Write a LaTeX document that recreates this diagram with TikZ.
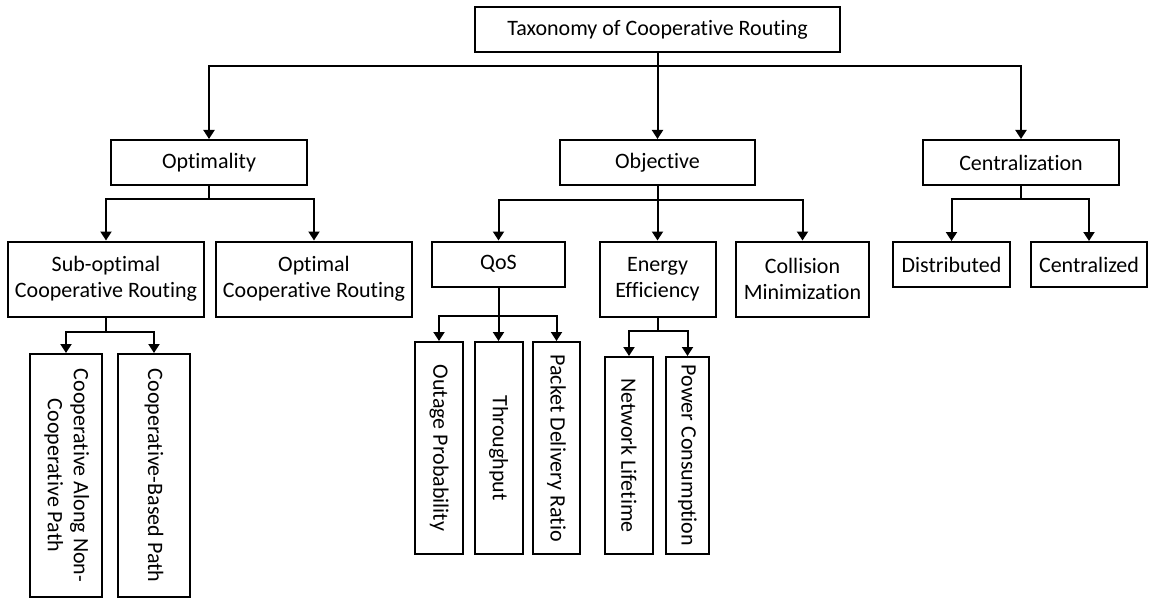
\documentclass[tikz,border=0pt]{standalone}
\usepackage{fontspec}
\setmainfont{Carlito}[Ligatures={NoCommon}]
\usepackage{graphicx}
\usetikzlibrary{arrows.meta}
\begin{document}
\begin{tikzpicture}[x=1pt,y=-1pt,
  box/.style={draw=black, line width=2pt, inner sep=0pt, align=center,
    font=\fontsize{22}{26}\selectfont},
  link/.style={line width=2pt, -{Triangle[length=9pt,width=11pt]}},
  plain/.style={line width=2pt}]
\useasboundingbox (0,0) rectangle (1152,599);
% level 0
\node[box, minimum width=365pt, minimum height=45pt] (root) at (657.5,29.5) {Taxonomy of Cooperative Routing};
% level 1
\node[box, minimum width=196pt, minimum height=45pt] (opt) at (209,162.5) {Optimality};
\node[box, minimum width=195pt, minimum height=45pt] (obj) at (657.5,162.5) {Objective};
\node[box, minimum width=196pt, minimum height=45pt] (cen) at (1021,162.5) {Centralization};
% level 2
\node[box, minimum width=196pt, minimum height=75pt] (subopt) at (106,279) {Sub-optimal\\Cooperative Routing};
\node[box, minimum width=196pt, minimum height=75pt] (optimal) at (314,279) {Optimal\\Cooperative Routing};
\node[box, minimum width=133pt, minimum height=45pt] (qos) at (498.5,264) {QoS};
\node[box, minimum width=116pt, minimum height=75pt] (energy) at (657.5,279) {Energy\\Efficiency};
\node[box, minimum width=133pt, minimum height=75pt] (coll) at (802.5,279) {Collision\\Minimization};
\node[box, minimum width=117pt, minimum height=45pt] (dist) at (951.5,264.5) {Distributed};
\node[box, minimum width=116pt, minimum height=45pt] (centz) at (1089,264.5) {Centralized};
% level 3
\node[box, minimum width=71.5pt, minimum height=243pt] (along) at (66,475.5) {\rotatebox{-90}{\begin{tabular}{@{}c@{}}Cooperative Along Non-\\Cooperative Path\end{tabular}}};
\node[box, minimum width=72pt, minimum height=243pt] (based) at (154,475.5) {\rotatebox{-90}{Cooperative-Based Path}};
\node[box, minimum width=48pt, minimum height=212pt] (outage) at (439,448) {\rotatebox{-90}{Outage Probability}};
\node[box, minimum width=48pt, minimum height=212pt] (thr) at (498.5,448) {\rotatebox{-90}{Throughput}};
\node[box, minimum width=47pt, minimum height=212pt] (pdr) at (556.5,448) {\rotatebox{-90}{Packet Delivery Ratio}};
\node[box, minimum width=48pt, minimum height=197pt] (nl) at (629,455.5) {\rotatebox{-90}{Network Lifetime}};
\node[box, minimum width=43pt, minimum height=197pt] (pc) at (687.5,455.5) {\rotatebox{-90}{Power Consumption}};
% branch points
\coordinate (b0) at (657.5,66);
\coordinate (b1) at (209,199.5);
\coordinate (b2) at (657.5,200);
\coordinate (b3) at (1021,199);
\coordinate (b4) at (106,332);
\coordinate (b5) at (498.5,316);
\coordinate (b6) at (657.5,331);
% connectors
\draw[plain] (root.south) -- (b0);
\draw[link] (b0) -| (opt.north);
\draw[link] (b0) -- (obj.north);
\draw[link] (b0) -| (cen.north);
\draw[plain] (opt.south) -- (b1);
\draw[link] (b1) -| (subopt.north);
\draw[link] (b1) -| (optimal.north);
\draw[plain] (obj.south) -- (b2);
\draw[link] (b2) -| (qos.north);
\draw[link] (b2) -- (energy.north);
\draw[link] (b2) -| (coll.north);
\draw[plain] (cen.south) -- (b3);
\draw[link] (b3) -| (dist.north);
\draw[link] (b3) -| (centz.north);
\draw[plain] (subopt.south) -- (b4);
\draw[link] (b4) -| (along.north);
\draw[link] (b4) -| (based.north);
\draw[plain] (qos.south) -- (b5);
\draw[link] (b5) -| (outage.north);
\draw[link] (b5) -- (thr.north);
\draw[link] (b5) -| (pdr.north);
\draw[plain] (energy.south) -- (b6);
\draw[link] (b6) -| (nl.north);
\draw[link] (b6) -| (pc.north);
\end{tikzpicture}
\end{document}
